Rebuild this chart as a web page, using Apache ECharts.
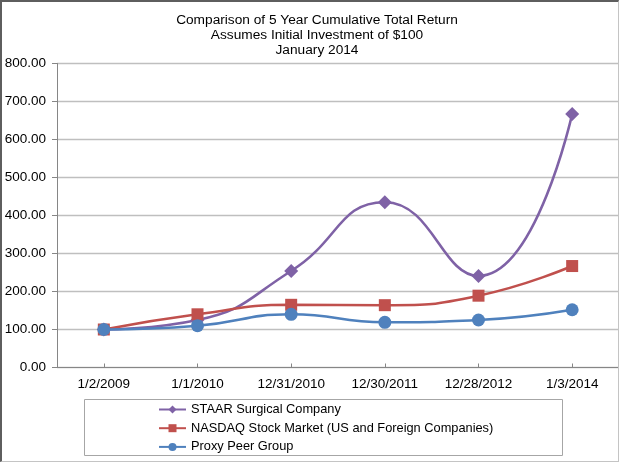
<!DOCTYPE html>
<html>
<head>
<meta charset="utf-8">
<script src="https://cdn.jsdelivr.net/npm/echarts@6/dist/echarts.min.js"></script>
<style>
  html, body { margin: 0; padding: 0; background: #fff; }
  #chart { position: absolute; left: 0; top: 0; width: 619px; height: 462px; }
  #frame { position: absolute; left: 0; top: 0; width: 616px; height: 459px;
           border-top: 2px solid #5e5e5e; border-left: 2px solid #5e5e5e;
           border-right: 1px solid #c4c4c4; border-bottom: 1px solid #c4c4c4;
           pointer-events: none; }
</style>
</head>
<body>
<div id="chart"></div>
<div id="frame"></div>
<script>
const categories = ['1/2/2009', '1/1/2010', '12/31/2010', '12/30/2011', '12/28/2012', '1/3/2014'];
const staar = [100, 125, 254, 435, 241, 667];
const nasdaq = [100, 140, 165, 164, 189, 267];
const peer = [100, 110, 140, 119, 125, 152];
const titleLines = ['Comparison of 5 Year Cumulative Total Return', 'Assumes Initial Investment of $100', 'January 2014'];
const seriesNames = ['STAAR Surgical Company', 'NASDAQ Stock Market (US and Foreign Companies)', 'Proxy Peer Group'];

const font = 'Arial, "Liberation Sans", sans-serif';
const chart = echarts.init(document.getElementById('chart'));
chart.setOption({
  animation: false,
  title: {
    text: titleLines.join('\n'),
    left: 312, top: 8, textAlign: 'center',
    textStyle: { fontFamily: font, fontSize: 13.7, fontWeight: 'normal', color: '#000', lineHeight: 15 }
  },
  grid: { left: 57, right: 0, top: 63.5, bottom: 94.5 },
  xAxis: {
    type: 'category', data: categories, boundaryGap: true,
    axisLine: { lineStyle: { color: '#868686', width: 1 } },
    axisTick: { show: true, alignWithLabel: true, inside: true, length: 4, lineStyle: { color: '#868686' } },
    axisLabel: { fontFamily: font, fontSize: 13.5, color: '#000', margin: 10, interval: 0 }
  },
  yAxis: {
    type: 'value', min: 0, max: 800, interval: 100,
    axisLine: { show: true, lineStyle: { color: '#868686', width: 1 } },
    axisTick: { show: true, length: 5, lineStyle: { color: '#868686' } },
    axisLabel: { fontFamily: font, fontSize: 13.5, color: '#000', margin: 11,
                 formatter: v => v.toFixed(2) },
    splitLine: { lineStyle: { color: '#bfbfbf', width: 1.3 } }
  },
  legend: {
    orient: 'vertical', left: 158, top: 403, padding: 0,
    itemWidth: 27, itemHeight: 10, itemGap: 5.7,
    textStyle: { fontFamily: font, fontSize: 12.8, color: '#000' },
    data: seriesNames
  },
  graphic: [{
    type: 'rect', shape: { x: 84.5, y: 399.5, width: 478, height: 56 },
    style: { fill: 'none', stroke: '#a6a6a6', lineWidth: 1 }, silent: true, z: -1
  }],
  series: [
    { name: seriesNames[0], type: 'line', data: staar, smooth: 0.5,
      symbol: 'diamond', symbolSize: 14,
      lineStyle: { color: '#7f62a6', width: 2.6 }, itemStyle: { color: '#7f62a6' }, z: 2 },
    { name: seriesNames[1], type: 'line', data: nasdaq, smooth: 0.5,
      symbol: 'rect', symbolSize: 12,
      lineStyle: { color: '#c0504d', width: 2.6 }, itemStyle: { color: '#c0504d' }, z: 3 },
    { name: seriesNames[2], type: 'line', data: peer, smooth: 0.5,
      symbol: 'circle', symbolSize: 13,
      lineStyle: { color: '#4f81bd', width: 2.6 }, itemStyle: { color: '#4f81bd' }, z: 4 }
  ]
});
</script>
</body>
</html>
